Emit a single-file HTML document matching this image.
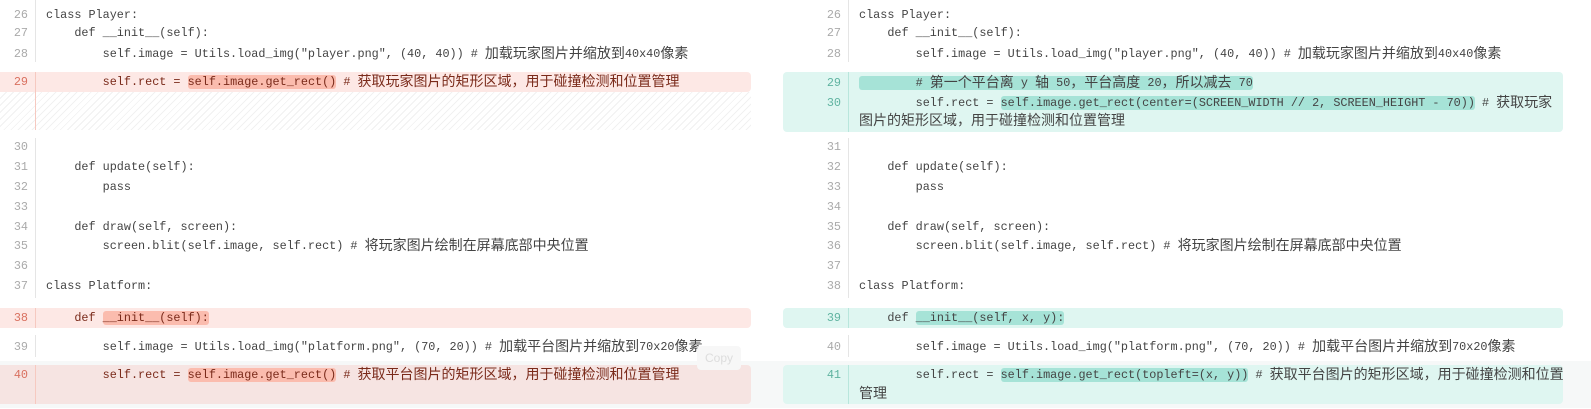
<!DOCTYPE html>
<html><head><meta charset="utf-8"><style>
body{margin:0;width:1591px;height:409px;background:#fff;position:relative;overflow:hidden;font-family:"Liberation Mono","Noto Sans CJK SC",monospace;font-size:11.8px;color:#444}
.a{position:absolute}
.t{position:absolute;white-space:pre;line-height:20px;height:20px}
.n{position:absolute;width:26px;text-align:right;color:#aaa;line-height:20px}
.r{color:#d9705f}.g{color:#5fb3a0}
.hr{background:#fbbcae;border-radius:3px}
.hg{background:#a6e3d7;border-radius:3px}
.rc{color:#7a2a1a}
.c{font-size:14px;line-height:14px;font-family:"Noto Sans CJK SC",sans-serif;vertical-align:-1px}
</style></head><body>
<div class="a" style="left:0;top:361px;width:1591px;height:47px;background:#f6f8f8"></div>
<div class="a" style="left:35px;top:0;width:1px;height:62px;background:#e5e5e5"></div>
<div class="a" style="left:35px;top:138px;width:1px;height:160px;background:#e5e5e5"></div>
<div class="a" style="left:35px;top:335px;width:1px;height:22px;background:#e5e5e5"></div>
<div class="a" style="left:848px;top:0;width:1px;height:62px;background:#e5e5e5"></div>
<div class="a" style="left:848px;top:138px;width:1px;height:160px;background:#e5e5e5"></div>
<div class="a" style="left:848px;top:335px;width:1px;height:22px;background:#e5e5e5"></div>
<div class="a" style="left:0;top:72px;width:751px;height:20px;background:#fde8e5;border-radius:0 4px 4px 0"></div>
<div class="a" style="left:0;top:92px;width:751px;height:38px;background:repeating-linear-gradient(135deg,#fff 0 4px,#f1f1f1 4px 5px)"></div>
<div class="a" style="left:0;top:308px;width:751px;height:20px;background:#fde8e5;border-radius:0 4px 4px 0"></div>
<div class="a" style="left:0;top:365px;width:751px;height:39px;background:#f6e4e2;border-radius:0 4px 4px 0"></div>
<div class="a" style="left:783px;top:72px;width:780px;height:60px;background:#dff6f1;border-radius:4px"></div>
<div class="a" style="left:783px;top:308px;width:780px;height:20px;background:#dff6f1;border-radius:4px"></div>
<div class="a" style="left:783px;top:365px;width:780px;height:39px;background:#dff6f1;border-radius:4px"></div>
<div class="a" style="left:35px;top:72px;width:1px;height:58px;background:#f6c9c0"></div>
<div class="a" style="left:35px;top:308px;width:1px;height:20px;background:#f6c9c0"></div>
<div class="a" style="left:35px;top:365px;width:1px;height:39px;background:#f6c9c0"></div>
<div class="a" style="left:848px;top:72px;width:1px;height:60px;background:#b8e6dc"></div>
<div class="a" style="left:848px;top:308px;width:1px;height:20px;background:#b8e6dc"></div>
<div class="a" style="left:848px;top:365px;width:1px;height:39px;background:#b8e6dc"></div>
<!-- left -->
<div class="n" style="left:2px;top:5px">26</div><div class="t" style="left:46px;top:5px">class Player:</div>
<div class="n" style="left:2px;top:23px">27</div><div class="t" style="left:46px;top:23px">    def __init__(self):</div>
<div class="n" style="left:2px;top:44px">28</div><div class="t" style="left:46px;top:44px">        self.image = Utils.load_img("player.png", (40, 40)) # <span class="c">加载玩家图片并缩放到</span>40x40<span class="c">像素</span></div>
<div class="n r" style="left:2px;top:72px">29</div><div class="t rc" style="left:46px;top:72px">        self.rect = <span class="hr">self.image.get_rect()</span> # <span class="c">获取玩家图片的矩形区域，用于碰撞检测和位置管理</span></div>
<div class="n" style="left:2px;top:137px">30</div>
<div class="n" style="left:2px;top:157px">31</div><div class="t" style="left:46px;top:157px">    def update(self):</div>
<div class="n" style="left:2px;top:177px">32</div><div class="t" style="left:46px;top:177px">        pass</div>
<div class="n" style="left:2px;top:197px">33</div>
<div class="n" style="left:2px;top:217px">34</div><div class="t" style="left:46px;top:217px">    def draw(self, screen):</div>
<div class="n" style="left:2px;top:236px">35</div><div class="t" style="left:46px;top:236px">        screen.blit(self.image, self.rect) # <span class="c">将玩家图片绘制在屏幕底部中央位置</span></div>
<div class="n" style="left:2px;top:256px">36</div>
<div class="n" style="left:2px;top:276px">37</div><div class="t" style="left:46px;top:276px">class Platform:</div>
<div class="n r" style="left:2px;top:308px">38</div><div class="t rc" style="left:46px;top:308px">    def <span class="hr">__init__(self):</span></div>
<div class="n" style="left:2px;top:337px">39</div><div class="t" style="left:46px;top:337px">        self.image = Utils.load_img("platform.png", (70, 20)) # <span class="c">加载平台图片并缩放到</span>70x20<span class="c">像素</span></div>
<div class="n r" style="left:2px;top:365px">40</div><div class="t rc" style="left:46px;top:365px">        self.rect = <span class="hr">self.image.get_rect()</span> # <span class="c">获取平台图片的矩形区域，用于碰撞检测和位置管理</span></div>
<div class="a" style="left:697px;top:346px;width:44px;height:24px;border-radius:4px;background:#f7f7f7;color:#ddd;font-size:12px;line-height:24px;text-align:center;font-family:'Liberation Sans',sans-serif">Copy</div>
<!-- right -->
<div class="n" style="left:815px;top:5px">26</div><div class="t" style="left:859px;top:5px">class Player:</div>
<div class="n" style="left:815px;top:23px">27</div><div class="t" style="left:859px;top:23px">    def __init__(self):</div>
<div class="n" style="left:815px;top:44px">28</div><div class="t" style="left:859px;top:44px">        self.image = Utils.load_img("player.png", (40, 40)) # <span class="c">加载玩家图片并缩放到</span>40x40<span class="c">像素</span></div>
<div class="n g" style="left:815px;top:73px">29</div><div class="t" style="left:859px;top:73px"><span class="hg">        # <span class="c">第一个平台离</span> y <span class="c">轴</span> 50<span class="c">，平台高度</span> 20<span class="c">，所以减去</span> 70</span></div>
<div class="n g" style="left:815px;top:93px">30</div><div class="t" style="left:859px;top:93px">        self.rect = <span class="hg">self.image.get_rect(center=(SCREEN_WIDTH // 2, SCREEN_HEIGHT - 70))</span> # <span class="c">获取玩家</span></div>
<div class="t" style="left:859px;top:111px"><span class="c">图片的矩形区域，用于碰撞检测和位置管理</span></div>
<div class="n" style="left:815px;top:137px">31</div>
<div class="n" style="left:815px;top:157px">32</div><div class="t" style="left:859px;top:157px">    def update(self):</div>
<div class="n" style="left:815px;top:177px">33</div><div class="t" style="left:859px;top:177px">        pass</div>
<div class="n" style="left:815px;top:197px">34</div>
<div class="n" style="left:815px;top:217px">35</div><div class="t" style="left:859px;top:217px">    def draw(self, screen):</div>
<div class="n" style="left:815px;top:236px">36</div><div class="t" style="left:859px;top:236px">        screen.blit(self.image, self.rect) # <span class="c">将玩家图片绘制在屏幕底部中央位置</span></div>
<div class="n" style="left:815px;top:256px">37</div>
<div class="n" style="left:815px;top:276px">38</div><div class="t" style="left:859px;top:276px">class Platform:</div>
<div class="n g" style="left:815px;top:308px">39</div><div class="t" style="left:859px;top:308px">    def <span class="hg">__init__(self, x, y):</span></div>
<div class="n" style="left:815px;top:337px">40</div><div class="t" style="left:859px;top:337px">        self.image = Utils.load_img("platform.png", (70, 20)) # <span class="c">加载平台图片并缩放到</span>70x20<span class="c">像素</span></div>
<div class="n g" style="left:815px;top:365px">41</div><div class="t" style="left:859px;top:365px">        self.rect = <span class="hg">self.image.get_rect(topleft=(x, y))</span> # <span class="c">获取平台图片的矩形区域，用于碰撞检测和位置</span></div>
<div class="t" style="left:859px;top:384px"><span class="c">管理</span></div>
</body></html>
